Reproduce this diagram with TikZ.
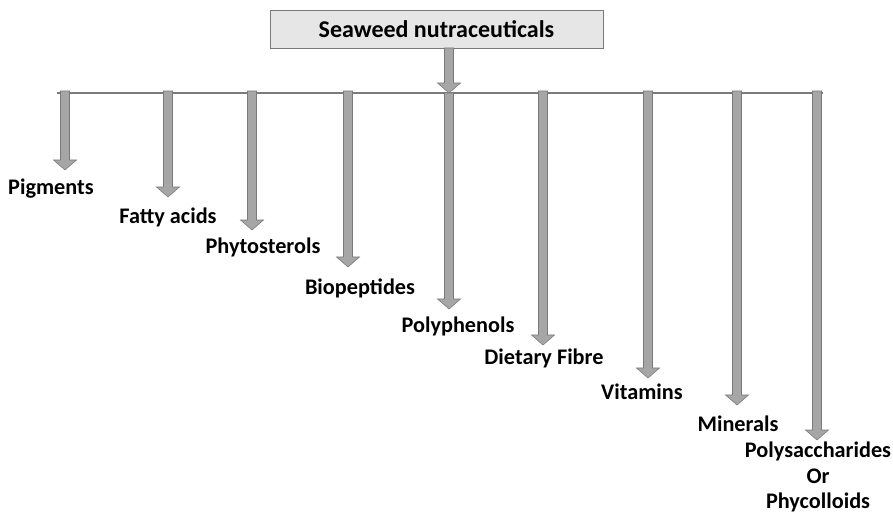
\documentclass[tikz,border=0pt]{standalone}
\usepackage{fontspec}
\setmainfont{Carlito}
\usetikzlibrary{calc,positioning}
\definecolor{arrow grey}{HTML}{A6A6A6}
\definecolor{edge grey}{HTML}{7A7A7A}
\definecolor{box grey}{HTML}{E6E6E6}
\tikzstyle{title box}=[draw=edge grey, fill=box grey, line width=.8pt, minimum width=9.99cm, minimum height=1.14cm, font=\fontsize{20.5}{24}\selectfont\bfseries]
\tikzstyle{item}=[font=\fontsize{19}{21.5}\selectfont\bfseries, align=center, inner sep=0pt]
\tikzstyle{block arrow}=[fill=arrow grey, draw=edge grey, line width=.5pt]
\tikzstyle{bar}=[edge grey, line width=1.5pt]
% block arrow from #1 down to the tip #2
\newcommand{\blockarrow}[2]{%
  \filldraw[block arrow] ($(#1)+(-4.5,0)$) -- ($(#2)+(-4.5,-10)$) -- ($(#2)+(-11.5,-10)$)
    -- (#2) -- ($(#2)+(11.5,-10)$) -- ($(#2)+(4.5,-10)$) -- ($(#1)+(4.5,0)$) -- cycle;}

\begin{document}
\begin{tikzpicture}[x=0.03cm,y=-0.03cm]
        \useasboundingbox (0,0) rectangle (893,514);

        \node[title box] (title) at (436.5,29) {Seaweed nutraceuticals};

        \coordinate (top) at (449,48);
        \coordinate (hub) at (449,93);
        \draw[bar] (57,93) to (823,93);
        \blockarrow{top}{hub}

        \coordinate (b1) at (65,91);
        \coordinate (b2) at (168,91);
        \coordinate (b3) at (252,91);
        \coordinate (b4) at (348,91);
        \coordinate (b5) at (449,93);
        \coordinate (b6) at (543,91);
        \coordinate (b7) at (648,91);
        \coordinate (b8) at (737,91);
        \coordinate (b9) at (817,91);

        \coordinate (t1) at (65,170);
        \coordinate (t2) at (168,197);
        \coordinate (t3) at (252,230);
        \coordinate (t4) at (348,267);
        \coordinate (t5) at (449,309);
        \coordinate (t6) at (543,345);
        \coordinate (t7) at (648,378);
        \coordinate (t8) at (737,405);
        \coordinate (t9) at (817,440);

        \blockarrow{b1}{t1}
        \blockarrow{b2}{t2}
        \blockarrow{b3}{t3}
        \blockarrow{b4}{t4}
        \blockarrow{b5}{t5}
        \blockarrow{b6}{t6}
        \blockarrow{b7}{t7}
        \blockarrow{b8}{t8}
        \blockarrow{b9}{t9}

        \node[item] (pigments) at (51,189) {Pigments};
        \node[item] (fatty) at (168,217) {Fatty acids};
        \node[item] (sterols) at (263,247) {Phytosterols};
        \node[item] (peptides) at (360,288) {Biopeptides};
        \node[item] (phenols) at (458,326) {Polyphenols};
        \node[item] (fibre) at (544,358) {Dietary Fibre};
        \node[item] (vitamins) at (642,392) {Vitamins};
        \node[item] (minerals) at (738,424) {Minerals};
        \node[item] (sugars) at (818,477) {Polysaccharides\\Or\\Phycolloids};
    \end{tikzpicture}
\end{document}
